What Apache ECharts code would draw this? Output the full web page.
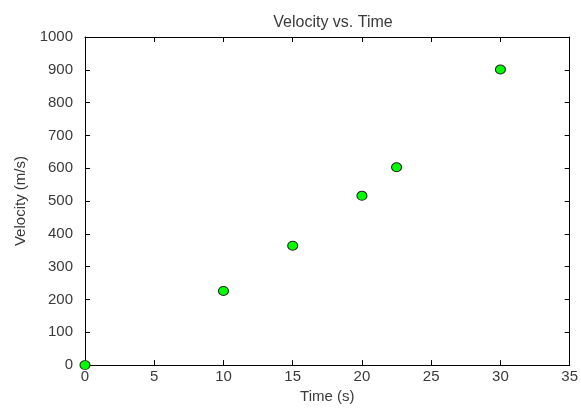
<!DOCTYPE html>
<html>
<head>
<meta charset="utf-8">
<script src="https://cdn.jsdelivr.net/npm/echarts@6/dist/echarts.min.js"></script>
<style>html,body{margin:0;padding:0;background:#fff;}#c{width:581px;height:409px;}</style>
</head>
<body>
<div id="c"></div>
<script>
var timeValues = [0, 10, 15, 20, 22.5, 30];
var velocityValues = [0, 226, 364, 516, 603, 901];
var xTicks = [0, 5, 10, 15, 20, 25, 30, 35];
var yTicks = [0, 100, 200, 300, 400, 500, 600, 700, 800, 900, 1000];

var points = timeValues.map(function (t, i) { return [t, velocityValues[i]]; });
var font = 'Liberation Sans, Arial, sans-serif';
var txt = '#3a3a3a';

var chart = echarts.init(document.getElementById('c'), null, {renderer: 'canvas'});
var lineStyle = {color: '#000', width: 1};
function plain(v) { return String(v); }
chart.setOption({
  animation: false,
  backgroundColor: '#fff',
  title: {
    text: 'Velocity vs. Time',
    left: 328, top: 10, textAlign: 'center',
    textStyle: {fontFamily: font, fontSize: 16, fontWeight: 'normal', color: txt}
  },
  grid: {left: 85, right: 9, top: 37, bottom: 40, containLabel: false},
  xAxis: [{
    type: 'value', min: xTicks[0], max: xTicks[xTicks.length - 1], interval: 5,
    position: 'bottom',
    name: 'Time (s)', nameLocation: 'middle', nameGap: 20,
    nameTextStyle: {fontFamily: font, fontSize: 15, color: txt},
    axisLine: {show: true, onZero: false, lineStyle: lineStyle},
    axisTick: {show: true, inside: true, length: 5, lineStyle: lineStyle},
    axisLabel: {fontFamily: font, fontSize: 15, color: txt, margin: 4, formatter: plain},
    splitLine: {show: false}
  }, {
    type: 'value', min: xTicks[0], max: xTicks[xTicks.length - 1], interval: 5,
    position: 'top',
    axisLine: {show: true, onZero: false, lineStyle: lineStyle},
    axisTick: {show: true, inside: true, length: 5, lineStyle: lineStyle},
    axisLabel: {show: false},
    splitLine: {show: false}
  }],
  yAxis: [{
    type: 'value', min: yTicks[0], max: yTicks[yTicks.length - 1], interval: 100,
    position: 'left',
    name: 'Velocity (m/s)', nameLocation: 'middle', nameGap: 52, nameRotate: 90,
    nameTextStyle: {fontFamily: font, fontSize: 15, color: txt},
    axisLine: {show: true, onZero: false, lineStyle: lineStyle},
    axisTick: {show: true, inside: true, length: 5, lineStyle: lineStyle},
    axisLabel: {fontFamily: font, fontSize: 15, color: txt, margin: 12, formatter: plain},
    splitLine: {show: false}
  }, {
    type: 'value', min: yTicks[0], max: yTicks[yTicks.length - 1], interval: 100,
    position: 'right',
    axisLine: {show: true, onZero: false, lineStyle: lineStyle},
    axisTick: {show: true, inside: true, length: 5, lineStyle: lineStyle},
    axisLabel: {show: false},
    splitLine: {show: false}
  }],
  series: [{
    type: 'scatter',
    xAxisIndex: 0, yAxisIndex: 0,
    data: points,
    symbol: 'circle',
    symbolSize: [10, 9],
    itemStyle: {color: '#00ff00', borderColor: '#222', borderWidth: 1, opacity: 1},
    clip: false,
    z: 5
  }]
});
</script>
</body>
</html>
